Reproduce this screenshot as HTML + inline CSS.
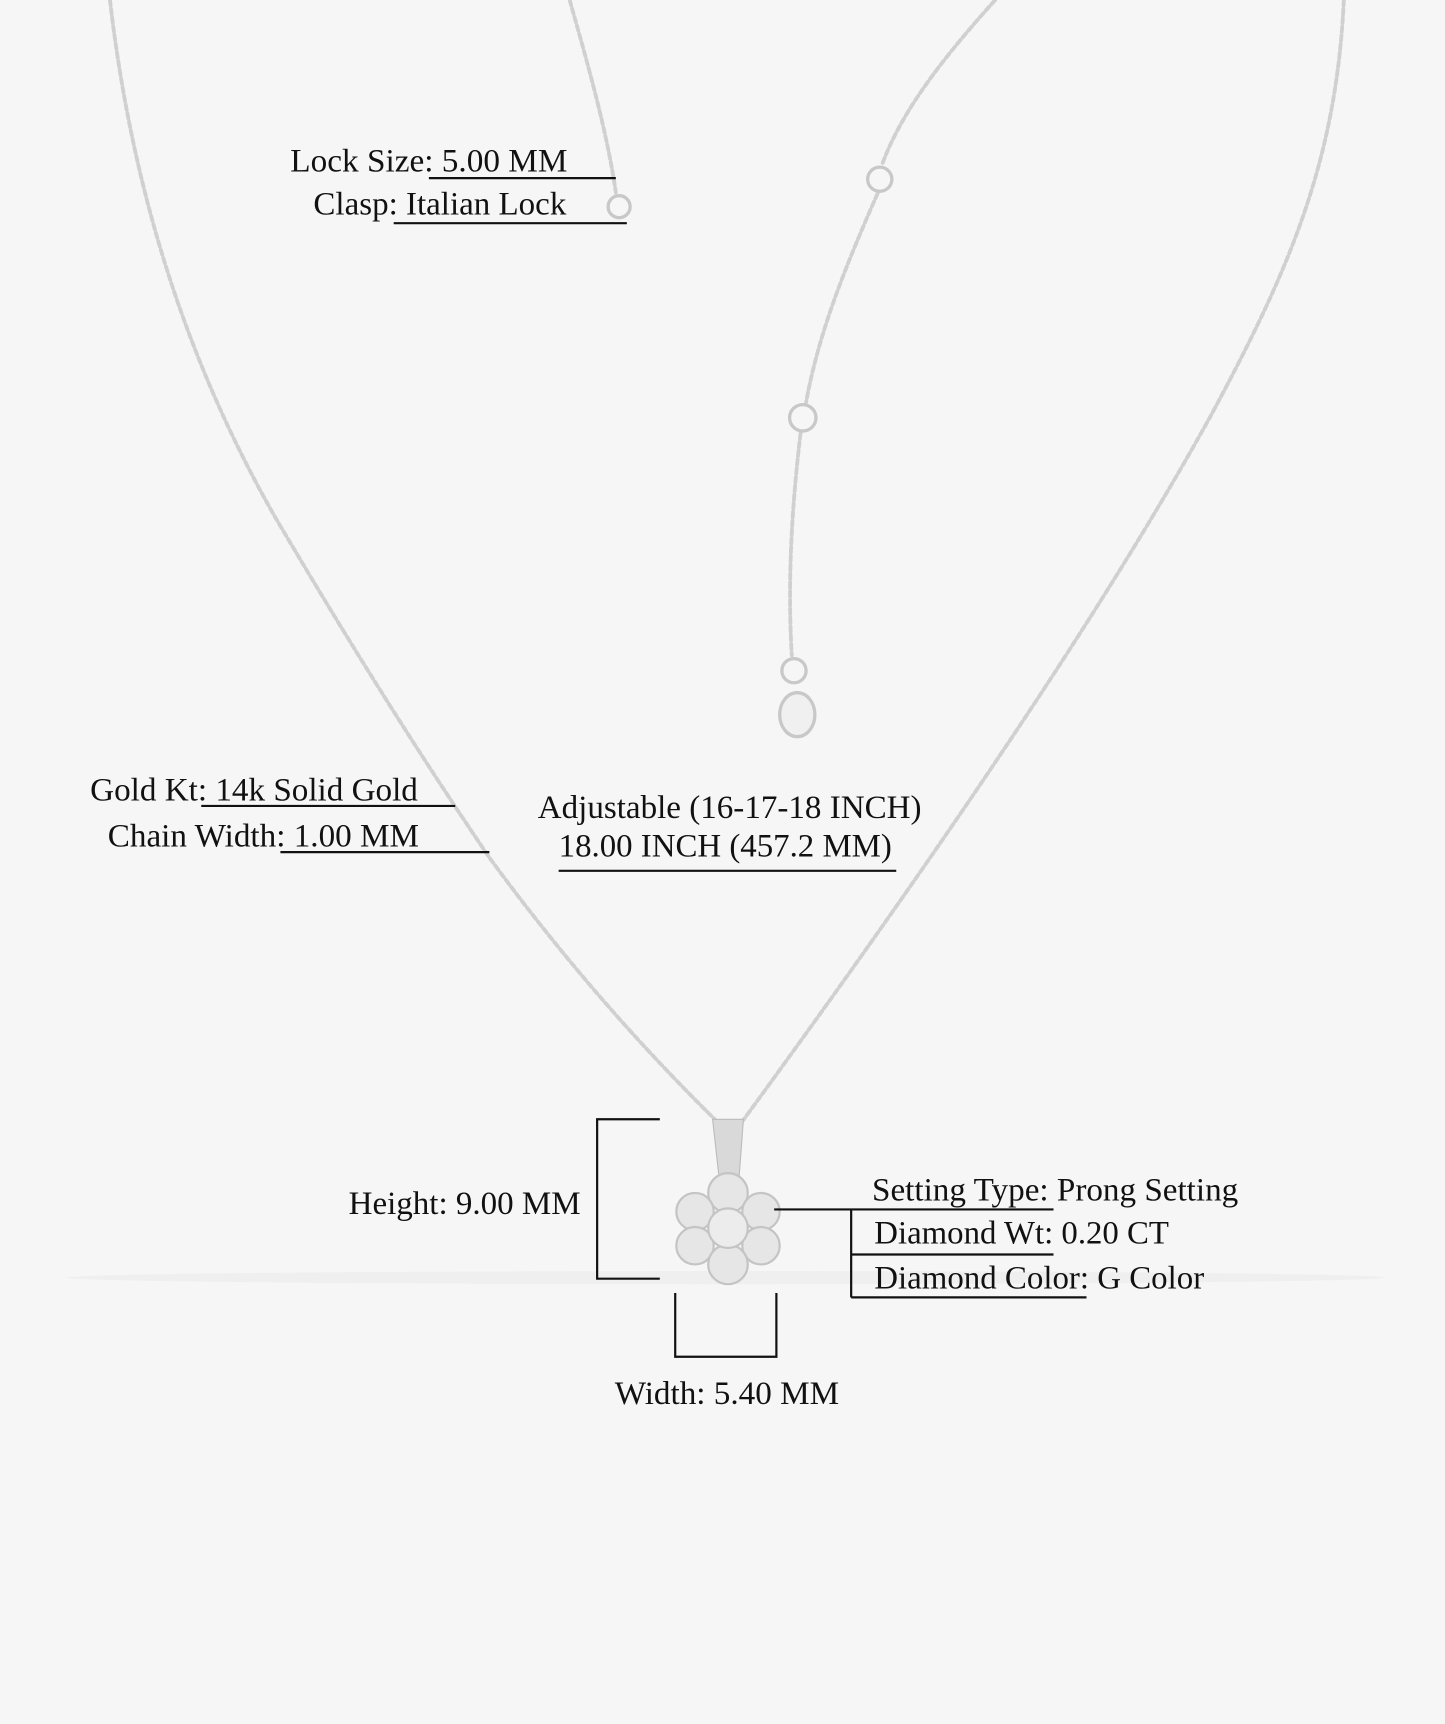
<!DOCTYPE html>
<html><head><meta charset="utf-8"><style>
html,body{margin:0;padding:0;background:#f6f6f6;}
svg{display:block}
text{font-family:"Liberation Serif",serif;font-size:30px;fill:#111;}
</style></head><body>
<svg width="1445" height="1724" viewBox="0 0 1314 1568" preserveAspectRatio="none" xmlns="http://www.w3.org/2000/svg">
<rect width="1314" height="1568" fill="#f6f6f6"/>
<ellipse cx="660" cy="1162" rx="600" ry="6" fill="#efefef"/>
<g fill="none" stroke="#d0d0d0" stroke-width="3.5" stroke-dasharray="5 3" stroke-linecap="round">
<path d="M100 0 Q130 260 250 470 Q350 640 445 780 Q540 910 652 1020"/>
<path d="M1222 0 C1215 150 1170 250 1100 380 C1000 560 850 780 675 1020"/>
<path d="M518 0 C535 60 552 120 560 175"/>
<path d="M905 0 C860 50 820 100 802 150"/>
<path d="M798 176 C770 240 745 300 733 366"/>
<path d="M728 394 C720 460 716 530 720 596"/>
</g>
<g fill="none" stroke="#c8c8c8" stroke-width="3">
<circle cx="563" cy="188" r="10"/>
<circle cx="800" cy="163" r="11"/>
<circle cx="730" cy="380" r="12"/>
<circle cx="722" cy="610" r="11"/>
<ellipse cx="725" cy="650" rx="16" ry="20" fill="#f0f0f0"/>
</g>
<g>
<path d="M648 1018 L676 1018 L672 1072 L654 1072 Z" fill="#d9d9d9" stroke="#bbb"/>
<g fill="#e6e6e6" stroke="#c4c4c4" stroke-width="2">
<circle cx="662" cy="1085" r="18"/>
<circle cx="632" cy="1102" r="17"/>
<circle cx="692" cy="1102" r="17"/>
<circle cx="632" cy="1133" r="17"/>
<circle cx="692" cy="1133" r="17"/>
<circle cx="662" cy="1150" r="18"/>
<circle cx="662" cy="1117" r="18" fill="#ececec"/>
</g>
</g>
<g stroke="#111" stroke-width="2" fill="none">
<path d="M390 162 H560"/>
<path d="M358 203 H570"/>
<path d="M183 733 H414"/>
<path d="M255 775 H445"/>
<path d="M508 792 H815"/>
<path d="M600 1018 H543 V1163 H600"/>
<path d="M614 1176 V1234 H706 V1176"/>
<path d="M704 1100 H958"/>
<path d="M774 1100 V1180"/>
<path d="M774 1141 H958"/>
<path d="M774 1180 H988"/>
</g>
<text x="264" y="156" textLength="252" lengthAdjust="spacingAndGlyphs">Lock Size: 5.00 MM</text>
<text x="285" y="195" textLength="230" lengthAdjust="spacingAndGlyphs">Clasp: Italian Lock</text>
<text x="82" y="728" textLength="298" lengthAdjust="spacingAndGlyphs">Gold Kt: 14k Solid Gold</text>
<text x="98" y="770" textLength="283" lengthAdjust="spacingAndGlyphs">Chain Width: 1.00 MM</text>
<text x="489" y="744" textLength="349" lengthAdjust="spacingAndGlyphs">Adjustable (16-17-18 INCH)</text>
<text x="508" y="779" textLength="303" lengthAdjust="spacingAndGlyphs">18.00 INCH (457.2 MM)</text>
<text x="317" y="1104" textLength="211" lengthAdjust="spacingAndGlyphs">Height: 9.00 MM</text>
<text x="559" y="1277" textLength="204" lengthAdjust="spacingAndGlyphs">Width: 5.40 MM</text>
<text x="793" y="1092" textLength="333" lengthAdjust="spacingAndGlyphs">Setting Type: Prong Setting</text>
<text x="795" y="1131" textLength="268" lengthAdjust="spacingAndGlyphs">Diamond Wt: 0.20 CT</text>
<text x="795" y="1172" textLength="300" lengthAdjust="spacingAndGlyphs">Diamond Color: G Color</text>
</svg>
</body></html>
